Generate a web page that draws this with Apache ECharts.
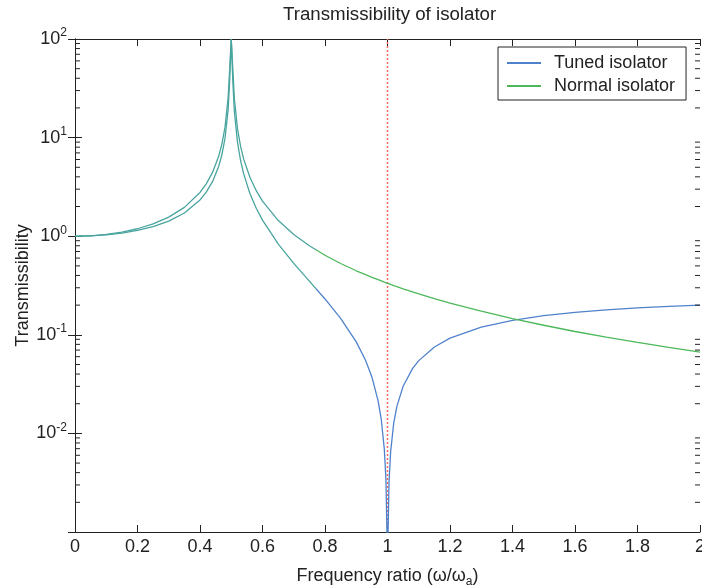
<!DOCTYPE html>
<html>
<head>
<meta charset="utf-8">
<script src="https://cdn.jsdelivr.net/npm/echarts@6/dist/echarts.min.js"></script>
<style>
html,body{margin:0;padding:0;background:#fff;}
#chart{width:702px;height:588px;}
</style>
</head>
<body>
<div id="chart"></div>
<script>
// Frequency ratio (x values)
const ratio = [0,0.05,0.1,0.15,0.2,0.25,0.3,0.35,0.4,0.42,0.44,0.46,0.47,0.48,0.49,0.495,0.5,0.505,0.51,0.52,0.53,0.54,0.56,0.58,0.6,0.65,0.7,0.75,0.8,0.85,0.9,0.93,0.95,0.97,0.98,0.99,0.995,1.0,1.005,1.01,1.02,1.03,1.05,1.08,1.1,1.15,1.2,1.3,1.4,1.5,1.6,1.7,1.8,1.9,2.0];
// Tuned isolator transmissibility
const tuned = [1,1.008,1.031,1.074,1.143,1.25,1.422,1.721,2.333,2.798,3.575,5.133,6.693,9.816,19.19,37.94,100,37.06,18.31,8.941,5.818,4.257,2.698,1.920,1.455,0.837,0.531,0.35,0.231,0.147,0.0848,0.0549,0.0374,0.0214,0.0139,0.0068,0.0034,0.0005,0.0033,0.0065,0.0128,0.0188,0.0301,0.0454,0.0547,0.0752,0.0924,0.1198,0.1404,0.1563,0.1688,0.179,0.1873,0.1942,0.2];
// Normal isolator transmissibility
const normal = [1,1.010,1.042,1.099,1.190,1.333,1.563,1.961,2.778,3.397,4.433,6.510,8.591,12.76,25.25,50.25,100,49.75,24.75,12.25,8.091,6.010,3.931,2.894,2.273,1.449,1.042,0.8,0.641,0.529,0.446,0.407,0.383,0.362,0.352,0.342,0.338,0.333,0.329,0.325,0.316,0.308,0.293,0.273,0.260,0.233,0.210,0.174,0.146,0.125,0.108,0.0947,0.0836,0.0744,0.0667];
const seriesNames = ['Tuned isolator','Normal isolator'];
const markX = 1;          // vertical reference line at ω/ωa = 1
const xMin = 0, xMax = 2;
const yMin = 0.001, yMax = 100;
const tealUntil = 0.77;

// log minor tick values (2..9 per decade)
const minorTickVals = [];
for (let e = -3; e < 2; e++) for (let m = 2; m <= 9; m++) minorTickVals.push(m * Math.pow(10, e));

const FONT = 'Liberation Sans, Arial, sans-serif';
const BLUE = '#4f82cc', GREEN = '#4cb85a', TEAL = '#48a49e', RED = '#f86a5a';
const chart = echarts.init(document.getElementById('chart'), null, {renderer:'canvas'});

const yLabelFmt = function (v) {
  const e = Math.round(Math.log10(v));
  if (e <= -3) return '';
  return '10{sup|' + e + '}';
};

const axisLineStyle = {color:'#222', width:1};

function minorTickSeries(xv, offset) {
  return {
    type: 'scatter', xAxisIndex: 0, yAxisIndex: 0, silent: true, clip: false,
    data: minorTickVals.map(v => [xv, v]),
    symbol: 'rect', symbolSize: [5, 1], symbolOffset: [offset, 0],
    itemStyle: {color: '#222', opacity: 1},
    emphasis: {disabled: true},
    z: 10
  };
}

chart.setOption({
  animation: false,
  title: {
    text: 'Transmissibility of isolator',
    left: 283, top: 5, padding: 0,
    textStyle: {fontFamily: FONT, fontSize: 18.7, fontWeight: 'normal', color: '#222'}
  },
  legend: {
    data: seriesNames,
    orient: 'vertical',
    left: 498, top: 47,
    padding: [7, 11, 5, 9],
    icon: 'rect',
    itemWidth: 34, itemHeight: 2, itemGap: 5,
    borderColor: '#222', borderWidth: 1, backgroundColor: '#fff',
    textStyle: {fontFamily: FONT, fontSize: 18, color: '#222', lineHeight: 18, padding: [0,0,0,8]}
  },
  grid: {left: 75, right: 2, top: 39, bottom: 56, containLabel: false, outerBoundsMode: 'none'},
  xAxis: [{
    type: 'value', min: xMin, max: xMax, interval: 0.2, position: 'bottom',
    name: 'Frequency ratio (ω/ω{sub|a})',
    nameLocation: 'middle', nameGap: 32, nameMoveOverlap: false,
    nameTextStyle: {fontFamily: FONT, fontSize: 18, color: '#222',
      rich: {sub: {fontFamily: FONT, fontSize: 12, color:'#222', verticalAlign: 'bottom', padding: [12,0,0,0]}}},
    axisLine: {show: true, lineStyle: axisLineStyle},
    axisTick: {show: true, inside: true, length: 7, lineStyle: axisLineStyle},
    axisLabel: {fontFamily: FONT, fontSize: 18, color: '#222', margin: 6, hideOverlap: false,
      formatter: function (v) { return String(Math.round(v * 10) / 10); }},
    splitLine: {show: false}
  }, {
    type: 'value', min: xMin, max: xMax, interval: 0.2, position: 'top',
    axisLine: {show: true, onZero: false, lineStyle: axisLineStyle},
    axisTick: {show: true, inside: true, length: 7, lineStyle: axisLineStyle},
    axisLabel: {show: false},
    splitLine: {show: false}
  }],
  yAxis: [{
    type: 'log', logBase: 10, min: yMin, max: yMax, position: 'left',
    name: 'Transmissibility', nameLocation: 'middle', nameGap: 43, nameMoveOverlap: false,
    nameTextStyle: {fontFamily: FONT, fontSize: 18, color: '#222'},
    axisLine: {show: true, lineStyle: axisLineStyle},
    axisTick: {show: true, inside: true, length: 7, lineStyle: axisLineStyle},
    axisLabel: {fontFamily: FONT, fontSize: 18, color: '#222', margin: 8,
      formatter: yLabelFmt,
      rich: {sup: {fontFamily: FONT, fontSize: 12, color: '#222', verticalAlign: 'top', padding: [0,0,12,0]}}},
    splitLine: {show: false}
  }, {
    type: 'log', logBase: 10, min: yMin, max: yMax, position: 'right',
    axisLine: {show: true, lineStyle: axisLineStyle},
    axisTick: {show: true, inside: true, length: 7, lineStyle: axisLineStyle},
    axisLabel: {show: false},
    splitLine: {show: false}
  }],
  series: [{
    name: 'ref', type: 'line', xAxisIndex: 0, yAxisIndex: 0,
    data: [[markX, yMin], [markX, yMax]],
    symbol: 'none', showSymbol: false, silent: true,
    lineStyle: {color: RED, type: [2, 2], width: 1.5},
    z: 2
  }, {
    name: seriesNames[0], type: 'line', xAxisIndex: 0, yAxisIndex: 0,
    data: ratio.map((r, i) => [r, tuned[i]]),
    symbol: 'none', showSymbol: false, smooth: false, clip: true,
    color: BLUE,
    lineStyle: {width: 1.3, color: BLUE},
    itemStyle: {color: BLUE},
    z: 3
  }, {
    name: seriesNames[1], type: 'line', xAxisIndex: 0, yAxisIndex: 0,
    data: ratio.map((r, i) => [r, normal[i]]),
    symbol: 'none', showSymbol: false, smooth: false, clip: true,
    color: GREEN,
    lineStyle: {width: 1.3, color: GREEN},
    itemStyle: {color: GREEN},
    z: 3
  },
  minorTickSeries(xMin, 2.5),
  minorTickSeries(xMax, -2.5)
  ]
});

// Colour change (teal -> blue/green) placed through the x scale
const W = 702;
const px = chart.convertToPixel({gridIndex: 0}, [tealUntil, 1])[0] / W;
function grad(c) {
  return {type: 'linear', x: 0, y: 0, x2: W, y2: 0, global: true,
    colorStops: [{offset: 0, color: TEAL}, {offset: px, color: TEAL},
                 {offset: px, color: c}, {offset: 1, color: c}]};
}
chart.setOption({
  series: [{}, {lineStyle: {color: grad(BLUE)}}, {lineStyle: {color: grad(GREEN)}}]
});
</script>
</body>
</html>
